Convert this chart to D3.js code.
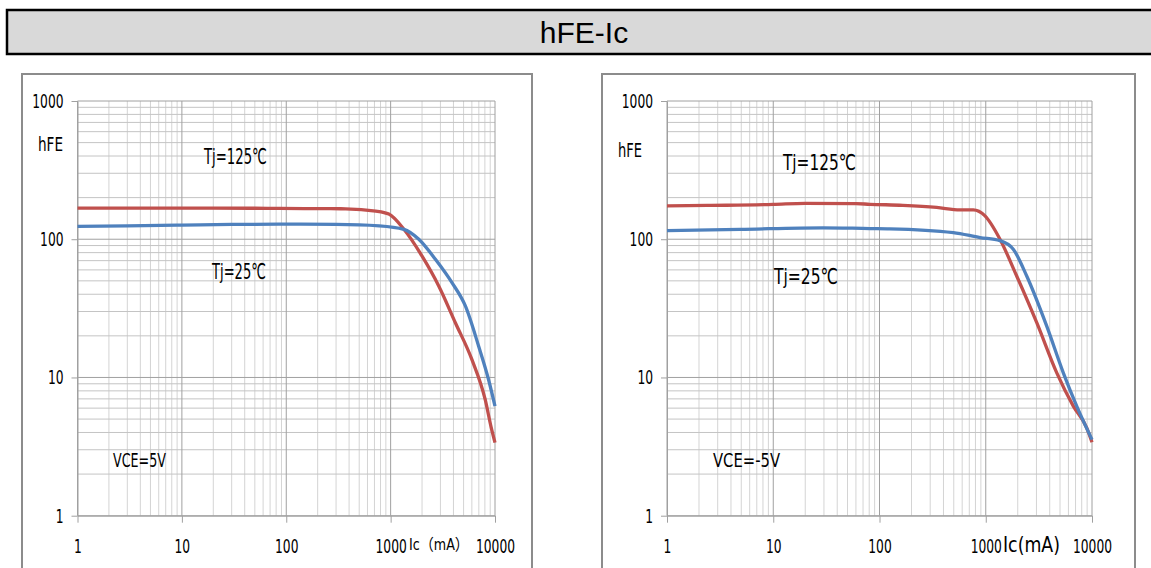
<!DOCTYPE html>
<html>
<head>
<meta charset="utf-8">
<script src="https://cdn.jsdelivr.net/npm/d3@7"></script>
<style>
  body { margin: 0; background: #fff; }
  svg { display: block; }
  text { font-family: "Liberation Sans Narrow", "DejaVu Sans Condensed", "Noto Sans CJK SC", sans-serif; fill: #000; }
</style>
</head>
<body>
<svg id="chart" width="1151" height="568"></svg>
<script>
// hFE vs Ic, two panels (NPN VCE=5V, PNP VCE=-5V)

const xTicks = [1, 10, 100, 1000, 10000];
const yTicks = [1, 10, 100, 1000];

// left panel, VCE=5V
const leftHotIc  = [1, 2, 5, 10, 20, 50, 86, 166, 371, 720, 962, 1340, 1995, 2890, 4170, 6000, 8050, 9200, 10000];
const leftHotHfe = [168, 168, 168, 168, 168, 167.5, 167, 166.5, 166, 160, 152, 118, 75.7, 45.9, 24.9, 13.5, 6.93, 4.34, 3.38];
const leftColdIc  = [1, 3, 10, 30, 85, 300, 777, 1340, 1862, 2685, 3870, 5200, 6960, 8670, 10000];
const leftColdHfe = [124, 125, 126.5, 128, 128.5, 128, 125, 118, 100, 71.6, 48.5, 32.9, 16.9, 9.67, 6.2];

// right panel, VCE=-5V
const rightHotIc  = [1, 2.4, 10, 20, 60, 81, 166, 345, 572, 764, 984, 1361, 1955, 3020, 4660, 6670, 8920, 10000];
const rightHotHfe = [174, 175.5, 178.5, 182, 181, 179, 176, 170, 163, 163, 147.5, 100, 54.2, 24.9, 10.8, 6.2, 4.32, 3.4];
const rightColdIc  = [1, 4.87, 29.4, 81, 125, 495, 883, 1361, 1815, 2430, 3750, 5370, 7180, 10000];
const rightColdHfe = [115.6, 118, 121, 119.5, 119, 111.7, 102.9, 97.6, 84.7, 54.2, 23.5, 10.8, 6.2, 3.55];

const hotColor = "#c0504d";
const coldColor = "#4f81bd";

const svg = d3.select("#chart");

// squeeze a text horizontally to the narrow width seen in the scan
function fit(sel, x, y, w) {
  sel.attr("x", 0).attr("y", 0);
  const n = sel.node().getComputedTextLength();
  return sel.attr("transform", `translate(${x},${y}) scale(${w / n},1)`);
}

// title bar
svg.append("rect")
  .attr("x", 7).attr("y", 10)
  .attr("width", 1150).attr("height", 44)
  .attr("fill", "#d9d9d9")
  .attr("stroke", "#000")
  .attr("stroke-width", 2.5);
svg.append("text")
  .attr("x", 584).attr("y", 43)
  .attr("text-anchor", "middle")
  .style("font-family", '"Liberation Sans", Arial, sans-serif')
  .style("font-size", "30px")
  .text("hFE-Ic");

const panels = [
  { box: [22, 74, 532], left: 77.5, right: 495,
    hot: [leftHotIc, leftHotHfe], cold: [leftColdIc, leftColdHfe],
    hfe: [38, 151, 25],
    hotLbl: [204, 164, 63], coldLbl: [212, 279, 54],
    vce: ["VCE=5V", 113, 467, 53],
    ic: ["Ic（mA）", 409, 550, 60, 16] },
  { box: [602, 74, 1135], left: 667, right: 1092,
    hot: [rightHotIc, rightHotHfe], cold: [rightColdIc, rightColdHfe],
    hfe: [618, 157, 24],
    hotLbl: [783, 170, 73], coldLbl: [774, 284, 64],
    vce: ["VCE=-5V", 713, 467, 67],
    ic: ["Ic(mA)", 1003, 552, 57, 22] }
];

const plotTop = 101, plotBottom = 515.7;

// minor grid values
function minors(decades) {
  const out = [];
  decades.forEach(d => { for (let k = 2; k <= 9; k++) out.push(k * d); });
  return out;
}

panels.forEach(p => {
  const g = svg.append("g");

  g.append("rect")
    .attr("x", p.box[0]).attr("y", p.box[1])
    .attr("width", p.box[2] - p.box[0]).attr("height", 600)
    .attr("fill", "#fff")
    .attr("stroke", "#8c8c8c")
    .attr("stroke-width", 2);

  const x = d3.scaleLog().domain([1, 10000]).range([p.left, p.right]);
  const y = d3.scaleLog().domain([1, 1000]).range([plotBottom, plotTop]);

  // grid
  g.append("g").selectAll("line")
    .data(minors([1, 10, 100, 1000]))
    .join("line")
    .attr("x1", d => x(d)).attr("x2", d => x(d))
    .attr("y1", plotTop).attr("y2", plotBottom)
    .attr("stroke", "#d4d4d4").attr("stroke-width", 1);
  g.append("g").selectAll("line")
    .data(minors([1, 10, 100]))
    .join("line")
    .attr("y1", d => y(d)).attr("y2", d => y(d))
    .attr("x1", p.left).attr("x2", p.right)
    .attr("stroke", "#c4c4c4").attr("stroke-width", 1);
  g.append("g").selectAll("line")
    .data(xTicks)
    .join("line")
    .attr("x1", d => x(d)).attr("x2", d => x(d))
    .attr("y1", plotTop).attr("y2", plotBottom)
    .attr("stroke", "#a0a0a0").attr("stroke-width", 1);
  g.append("g").selectAll("line")
    .data(yTicks)
    .join("line")
    .attr("y1", d => y(d)).attr("y2", d => y(d))
    .attr("x1", p.left).attr("x2", p.right)
    .attr("stroke", "#a0a0a0").attr("stroke-width", 1);

  // axes
  const yAxis = g.append("g")
    .attr("transform", `translate(${p.left},0)`)
    .call(d3.axisLeft(y).tickValues(yTicks).tickFormat(d3.format("d")).tickSize(6).tickPadding(8).tickSizeOuter(0));
  const xAxis = g.append("g")
    .attr("transform", `translate(0,${plotBottom})`)
    .call(d3.axisBottom(x).tickValues(xTicks).tickFormat(d3.format("d")).tickSize(7).tickPadding(16).tickSizeOuter(0));
  [yAxis, xAxis].forEach(a => {
    a.select(".domain").attr("stroke", "#a0a0a0");
    a.selectAll(".tick line").attr("stroke", "#a0a0a0");
    a.selectAll("text")
      .attr("font-family", null)
      .style("font-size", "20px")
      .attr("fill", "#000")
      .each(function(d) {
        const t = d3.select(this);
        const sx = 7.8 * String(d).length / this.getComputedTextLength();
        t.attr("x", (+t.attr("x") || 0) / sx).attr("transform", `scale(${sx},1)`);
      });
  });

  // curves
  const line = d3.line()
    .x(d => x(d[0])).y(d => y(d[1]))
    .curve(d3.curveMonotoneX);
  [[p.hot, hotColor], [p.cold, coldColor]].forEach(([s, c]) => {
    g.append("path")
      .datum(d3.zip(s[0], s[1]))
      .attr("d", line)
      .attr("fill", "none")
      .attr("stroke", c)
      .attr("stroke-width", 3.3)
      .attr("stroke-linejoin", "round");
  });

  // labels
  fit(g.append("text").style("font-size", "20px").text("hFE"), p.hfe[0], p.hfe[1], p.hfe[2]);
  fit(g.append("text").style("font-size", "22px").text("Tj=125℃"), p.hotLbl[0], p.hotLbl[1], p.hotLbl[2]);
  fit(g.append("text").style("font-size", "22px").text("Tj=25℃"), p.coldLbl[0], p.coldLbl[1], p.coldLbl[2]);
  fit(g.append("text").style("font-size", "20px").text(p.vce[0]), p.vce[1], p.vce[2], p.vce[3]);
  fit(g.append("text").style("font-size", p.ic[4] + "px").text(p.ic[0]), p.ic[1], p.ic[2], p.ic[3]);
});
</script>
</body>
</html>
